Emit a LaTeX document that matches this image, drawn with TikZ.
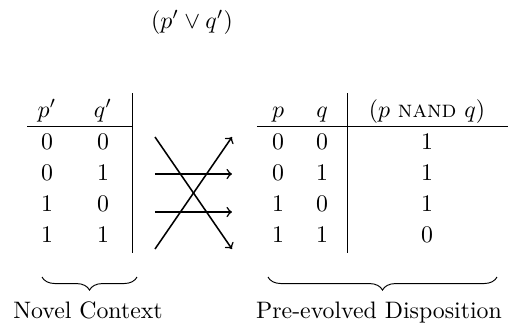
\documentclass[tikz,border=0pt]{standalone}
\usepackage{amsmath}
\usepackage{amssymb}
\usetikzlibrary{decorations.pathreplacing}

\begin{document}
\begin{tikzpicture}[x=0.42pt,y=-0.42pt,
  cell/.style={anchor=base,inner sep=0pt},
  swap/.style={line width=0.65pt,->},
  under/.style={decorate,decoration={brace,amplitude=5.5pt,mirror}}]

\useasboundingbox (0,0) rectangle (511,327);

\node[cell] (title) at (192,28) {$(p' \vee q')$};

% novel context
\node[cell] (lp) at (47,117) {$p'$};
\node[cell] (lq) at (103,117) {$q'$};
\foreach \a/\b [count=\i] in {0/0,0/1,1/0,1/1}{
  \node[cell] (lp\i) at (47,118+31*\i) {$\a$};
  \node[cell] (lq\i) at (103,118+31*\i) {$\b$};
}
\draw (27,126) -- (132,126);
\draw (132,93) -- (132,253);

% pre-evolved disposition
\node[cell] (rp) at (278,117) {$p$};
\node[cell] (rq) at (322,117) {$q$};
\node[cell] (rnand) at (427,117) {$(p \text{ \textsc{nand} } q)$};
\foreach \a/\b/\c [count=\i] in {0/0/1,0/1/1,1/0/1,1/1/0}{
  \node[cell] (rp\i) at (278,118+31*\i) {$\a$};
  \node[cell] (rq\i) at (322,118+31*\i) {$\b$};
  \node[cell] (rv\i) at (427,118+31*\i) {$\c$};
}
\draw (257,126) -- (508,126);
\draw (347,93) -- (347,253);

% arrows
\coordinate (s1) at (155,137); \coordinate (t1) at (232,137);
\coordinate (s2) at (155,174); \coordinate (t2) at (232,174);
\coordinate (s3) at (155,212); \coordinate (t3) at (232,212);
\coordinate (s4) at (155,249); \coordinate (t4) at (232,249);
\draw[swap] (s1) -- (t4);
\draw[swap] (s2) -- (t2);
\draw[swap] (s3) -- (t3);
\draw[swap] (s4) -- (t1);

% braces
\draw[under] (42,277) -- (137,277);
\draw[under] (268,277) -- (497,277);
\node[cell] (novel) at (88,318) {Novel Context};
\node[cell] (disp) at (379,318) {Pre-evolved Disposition};

\end{tikzpicture}
\end{document}
